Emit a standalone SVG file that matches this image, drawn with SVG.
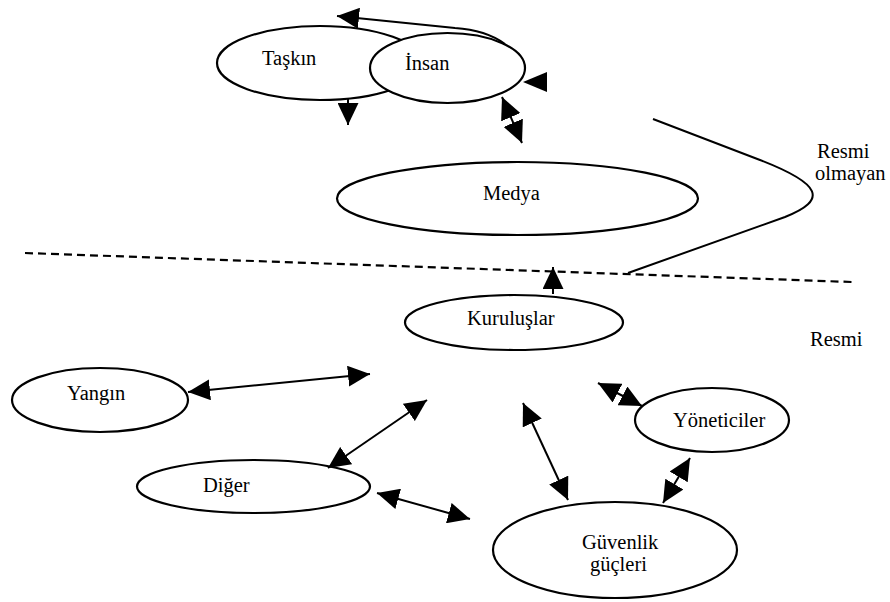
<svg xmlns="http://www.w3.org/2000/svg" width="890" height="602" viewBox="0 0 890 602">
<style>
.node ellipse{fill:#fff;stroke:#000;stroke-width:2.2}
text{font-family:"Liberation Serif","Times New Roman",serif;font-size:20.5px;fill:#000}
.c{fill:none;stroke:#000;stroke-width:2}
.dash{fill:none;stroke:#000;stroke-width:2.2;stroke-dasharray:8 5}
.head{fill:#000}
</style>
<defs>
<marker id="ah" viewBox="0 0 22 21" refX="22" refY="10.5" markerWidth="22" markerHeight="21" markerUnits="userSpaceOnUse" orient="auto-start-reverse">
<path d="M0,0 L22,10.5 L0,21 z" fill="#000"/>
</marker>
</defs>
<rect width="890" height="602" fill="#fff"/>
<g id="boundary">
<line class="dash" x1="25" y1="253" x2="852" y2="282"/>
<path class="c" d="M653,119 L760,160 C822,184 828,200 785,217 L628,273"/>
</g>
<g id="node-taskin" class="node">
<ellipse cx="320" cy="63" rx="103" ry="37"/>
<text x="262" y="65">Taşkın</text>
</g>
<g id="node-insan" class="node">
<ellipse cx="447.5" cy="68" rx="77.5" ry="35"/>
<text x="405" y="70">İnsan</text>
</g>
<g id="node-medya" class="node">
<ellipse cx="517.5" cy="198.5" rx="180.5" ry="36.5"/>
<text x="483" y="200">Medya</text>
</g>
<g id="node-kuruluslar" class="node">
<ellipse cx="514" cy="322.5" rx="109" ry="27.5"/>
<text x="467" y="325">Kuruluşlar</text>
</g>
<g id="node-yangin" class="node">
<ellipse cx="100" cy="400" rx="88" ry="32"/>
<text x="67" y="400">Yangın</text>
</g>
<g id="node-diger" class="node">
<ellipse cx="253.5" cy="486.5" rx="116.5" ry="26.5"/>
<text x="203" y="492">Diğer</text>
</g>
<g id="node-yoneticiler" class="node">
<ellipse cx="712" cy="420" rx="77" ry="32"/>
<text x="673" y="427">Yöneticiler</text>
</g>
<g id="node-guvenlik" class="node">
<ellipse cx="615" cy="550" rx="122" ry="48"/>
<text x="582" y="549">Güvenlik</text>
<text x="590" y="571">güçleri</text>
</g>
<g id="labels">
<text x="817" y="158">Resmi</text>
<text x="815" y="180">olmayan</text>
<text x="810" y="346">Resmi</text>
</g>
<g id="connectors">
<path class="c" d="M505,44 C490,33 470,29 455,28 L337,16" marker-end="url(#ah)"/>
<line class="c" x1="348" y1="99" x2="348" y2="125" marker-end="url(#ah)"/>
<polygon class="head" points="547,72 547,92 523,82"/>
<line class="c" x1="502" y1="97" x2="522" y2="143" marker-start="url(#ah)" marker-end="url(#ah)"/>
<line class="c" x1="553" y1="294" x2="553" y2="267" marker-end="url(#ah)"/>
<line class="c" x1="188" y1="392" x2="370" y2="374" marker-start="url(#ah)" marker-end="url(#ah)"/>
<line class="c" x1="328" y1="468" x2="427" y2="400" marker-start="url(#ah)" marker-end="url(#ah)"/>
<line class="c" x1="377" y1="493" x2="470" y2="519" marker-start="url(#ah)" marker-end="url(#ah)"/>
<line class="c" x1="523" y1="403" x2="568" y2="500" marker-start="url(#ah)" marker-end="url(#ah)"/>
<line class="c" x1="598" y1="383" x2="642" y2="406" marker-start="url(#ah)" marker-end="url(#ah)"/>
<line class="c" x1="690" y1="458" x2="663" y2="503" marker-start="url(#ah)" marker-end="url(#ah)"/>
</g>
</svg>
